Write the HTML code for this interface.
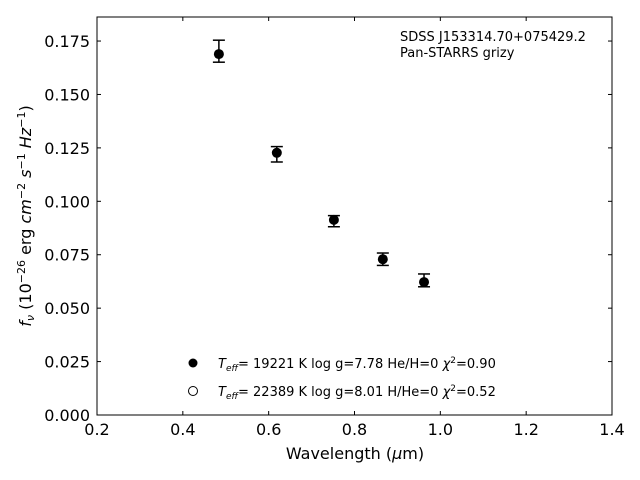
<!DOCTYPE html>
<html><head><meta charset="utf-8"><style>body{margin:0;background:#fff}svg{display:block;font-family:"DejaVu Sans","Liberation Sans",sans-serif}</style></head>
<body>
<svg id="chart" width="640" height="480" viewBox="0 0 640 480" xmlns="http://www.w3.org/2000/svg">
<rect x="97" y="17" width="515" height="398" fill="none" stroke="#000" stroke-width="1"/>
<g id="ticks"></g>
<g id="marks"></g>
<text x="355" y="459" font-size="16" text-anchor="middle">Wavelength (<tspan font-style="italic">μ</tspan>m)</text>
<text transform="translate(31,216) rotate(-90)" font-size="16" text-anchor="middle"><tspan font-style="italic">f<tspan font-size="11" dy="3">ν</tspan></tspan><tspan dy="-3"> (10</tspan><tspan font-size="11" dy="-6">−26</tspan><tspan dy="6"> erg </tspan><tspan font-style="italic">cm</tspan><tspan font-size="11" dy="-6">−2</tspan><tspan dy="6" font-style="italic"> s</tspan><tspan font-size="11" dy="-6">−1</tspan><tspan dy="6" font-style="italic"> Hz</tspan><tspan font-size="11" dy="-6">−1</tspan><tspan dy="6">)</tspan></text>
<text x="400" y="41" font-size="13">SDSS J153314.70+075429.2</text>
<text x="400" y="57" font-size="13">Pan-STARRS grizy</text>
<g>
<circle cx="193" cy="363" r="4.5" fill="#000"/>
<text x="218" y="368" font-size="13"><tspan font-style="italic">T<tspan font-size="9" dy="3">eff</tspan></tspan><tspan dy="-3">= 19221 K  log g=7.78  He/H=0  </tspan><tspan font-style="italic">χ</tspan><tspan font-size="9" dy="-5">2</tspan><tspan dy="5">=0.90</tspan></text>
<circle cx="193" cy="391" r="4.5" fill="#fff" stroke="#000" stroke-width="1"/>
<text x="218" y="396" font-size="13"><tspan font-style="italic">T<tspan font-size="9" dy="3">eff</tspan></tspan><tspan dy="-3">= 22389 K  log g=8.01  H/He=0  </tspan><tspan font-style="italic">χ</tspan><tspan font-size="9" dy="-5">2</tspan><tspan dy="5">=0.52</tspan></text>
</g>
</svg>
<script>
const wavelengths=[0.484,0.619,0.752,0.866,0.962];
const fluxes=[0.1689,0.1227,0.0913,0.0729,0.0622];
const errLow=[0.1651,0.1184,0.0881,0.0700,0.0600];
const errHigh=[0.1754,0.1256,0.0933,0.0758,0.0660];
const xTicks=[0.2,0.4,0.6,0.8,1.0,1.2,1.4];
const yTicks=[0,0.025,0.05,0.075,0.1,0.125,0.15,0.175];
const X0=97,X1=612,Y0=415,Y1=17;
const sx=v=>X0+(v-0.2)/1.2*(X1-X0);
const sy=v=>Y0-v/0.18625*(Y0-Y1);
const NS="http://www.w3.org/2000/svg";
function mk(t,a,p){const e=document.createElementNS(NS,t);for(const k in a)e.setAttribute(k,a[k]);p.appendChild(e);return e;}
const tg=document.getElementById('ticks'),mg=document.getElementById('marks');
xTicks.forEach(v=>{const x=sx(v);
 let l=mk('line',{x1:x,x2:x,y1:Y0,y2:Y0-4,stroke:'#000'},tg);
 
 
 mk('line',{x1:x,x2:x,y1:Y1,y2:Y1+4,stroke:'#000'},tg);
 const t=mk('text',{x:x,y:Y0+20,'font-size':16,'text-anchor':'middle'},tg);t.textContent=v.toFixed(1);
 
 });
yTicks.forEach(v=>{const y=sy(v);
 let l=mk('line',{x1:X0,x2:X0+4,y1:y,y2:y,stroke:'#000'},tg);
 
 
 mk('line',{x1:X1,x2:X1-4,y1:y,y2:y,stroke:'#000'},tg);
 const t=mk('text',{x:X0-7,y:y+6,'font-size':16,'text-anchor':'end'},tg);t.textContent=v.toFixed(3);
 
 });
wavelengths.forEach((w,i)=>{const x=sx(w);
 const g=mk('g',{},mg);
 
 
 mk('line',{x1:x,x2:x,y1:sy(errLow[i]),y2:sy(errHigh[i]),stroke:'#000','stroke-width':1.5},g);
 mk('line',{x1:x-6,x2:x+6,y1:sy(errLow[i]),y2:sy(errLow[i]),stroke:'#000','stroke-width':1.5},g);
 mk('line',{x1:x-6,x2:x+6,y1:sy(errHigh[i]),y2:sy(errHigh[i]),stroke:'#000','stroke-width':1.5},g);
 mk('circle',{cx:x,cy:sy(fluxes[i]),r:5,fill:'#000'},g);});
</script>
</body></html>
